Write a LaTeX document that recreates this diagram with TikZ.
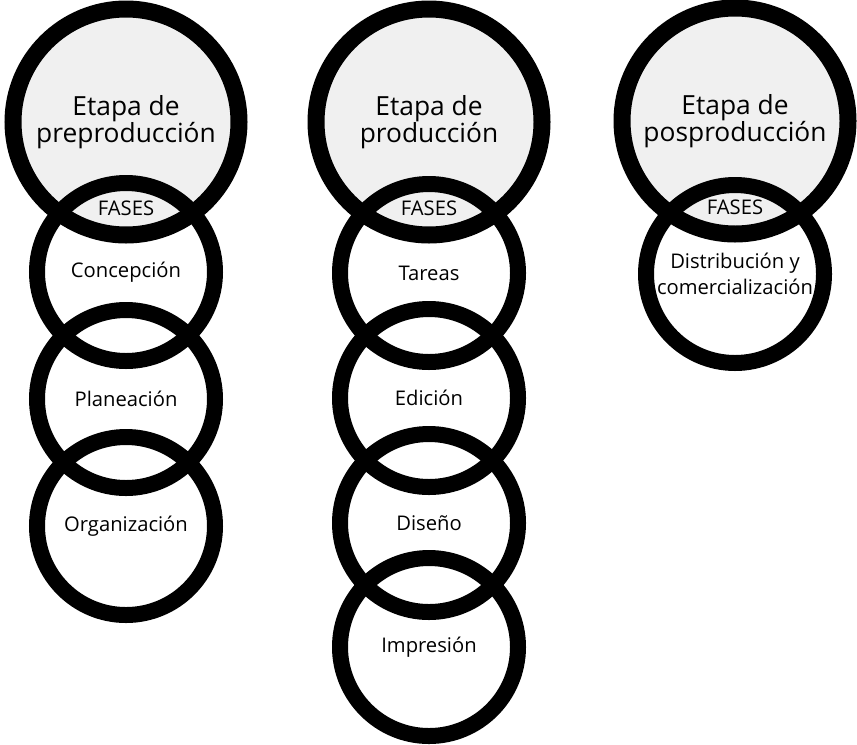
\documentclass[tikz,border=0pt]{standalone}
\usepackage{fontspec}
\setmainfont{Open Sans}
\usetikzlibrary{positioning}

\begin{document}
\begin{tikzpicture}[x=0.02cm,y=-0.02cm,
    etapa/.style={circle,fill=gray!12,minimum size=4.52cm,inner sep=0pt,align=center,
      font=\fontsize{15}{15.3}\selectfont},
    fase/.style={circle,fill=white,minimum size=3.56cm,inner sep=0pt,align=center,
      font=\fontsize{11.5}{14.7}\selectfont},
    aro/.style={draw=black,line width=0.32cm},
    aroetapa/.style={draw=black,line width=0.34cm}]
  \useasboundingbox (0,0) rectangle (857,744);

  % fases (fondo blanco)
  \node[fase] (conc) at (126,272) {Concepción};
  \node[fase] (plan) at (126,399) {Planeación};
  \node[fase] (orga) at (126,526) {Organización};
  \node[fase] (tare) at (429,273) {Tareas};
  \node[fase] (edic) at (429,398) {Edición};
  \node[fase] (dise) at (429,523) {Diseño};
  \node[fase] (impr) at (429,647) {Impresión};
  \node[fase] (dist) at (735,274) {Distribución y\\comercialización};

  % etapas (fondo gris)
  \node[etapa] (pre) at (126,122) {Etapa de\\preproducción};
  \node[etapa] (pro) at (429,122) {Etapa de\\producción};
  \node[etapa] (pos) at (735,121) {Etapa de\\posproducción};

  \foreach \e in {pre,pro,pos}
    \node[font=\fontsize{11.5}{14}\selectfont] (f\e) at ([yshift=-1.72cm]\e.center) {FASES};

  % aros
  \foreach \f in {conc,plan,orga,tare,edic,dise,impr,dist}
    \draw[aro] (\f) circle[radius=89];
  \foreach \e in {pre,pro,pos}
    \draw[aroetapa] (\e) circle[radius=113];
\end{tikzpicture}
\end{document}
